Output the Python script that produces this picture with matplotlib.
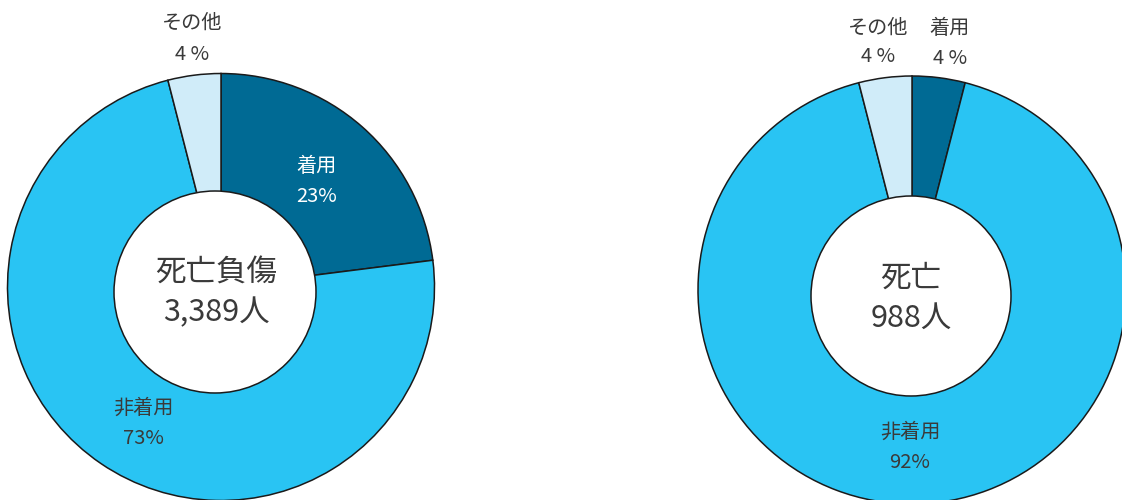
import matplotlib
matplotlib.use("Agg")
import matplotlib.pyplot as plt
from matplotlib.patches import Circle

plt.rcParams['font.family'] = ['Noto Sans CJK JP', 'DejaVu Sans']

# ---- data ----
categories = ["着用", "非着用", "その他"]
left_values = [23, 73, 4]
right_values = [4, 92, 4]
left_title = ["死亡負傷", "3,389人"]
right_title = ["死亡", "988人"]
left_pct_labels = ["23%", "73%", "4 %"]
right_pct_labels = ["4 %", "92%", "4 %"]

colors = ["#006A94", "#29C4F3", "#D0ECF9"]
label_colors_left = ["white", "#3A3A3A", "#3A3A3A"]
label_colors_right = ["#3A3A3A", "#3A3A3A", "#3A3A3A"]

W, H = 1122, 500
fig = plt.figure(figsize=(W / 100, H / 100), dpi=100)
ax = fig.add_axes([0, 0, 1, 1])
ax.set_xlim(0, W)
ax.set_ylim(0, H)
ax.set_aspect('equal')
ax.axis('off')


def donut(values, center, radius, hole_center, hole_r, titles, title_pos):
    cx, cy = center
    ax.pie(values, colors=colors, startangle=90, counterclock=False,
           center=(cx, H - cy), radius=radius, frame=True,
           wedgeprops=dict(edgecolor="#1a1a1a", linewidth=1.1))
    hx, hy = hole_center
    ax.add_patch(Circle((hx, H - hy), hole_r, facecolor="white",
                        edgecolor="#1a1a1a", linewidth=1.1, zorder=5))
    for t, (tx, ty) in zip(titles, title_pos):
        ax.text(tx, H - ty, t, ha='center', va='center', fontsize=22,
                color="#3A3A3A", zorder=6)


donut(left_values, (221, 287), 213.5, (215, 292), 101,
      left_title, [(216, 273), (216, 313)])
donut(right_values, (912, 290), 214, (911, 296), 100,
      right_title, [(911, 278), (911, 318)])

ax.set_xlim(0, W)
ax.set_ylim(0, H)
ax.axis('off')

# label positions (pixel coords, y from top): name line, pct line
left_label_pos = [(317, 167, 196), (143, 408, 438), (192, 23, 54)]
right_label_pos = [(950, 28, 58), (910, 432, 462), (878, 28, 57)]


def put_labels(pos, pcts, cols):
    for name, p, (x, y1, y2), c in zip(categories, pcts, pos, cols):
        ax.text(x, H - y1, name, ha='center', va='center', fontsize=14.5,
                color=c, zorder=6)
        ax.text(x, H - y2, p, ha='center', va='center', fontsize=14.5,
                color=c, zorder=6)


put_labels(left_label_pos, left_pct_labels, label_colors_left)
put_labels(right_label_pos, right_pct_labels, label_colors_right)

fig.savefig("out.png", dpi=100)
